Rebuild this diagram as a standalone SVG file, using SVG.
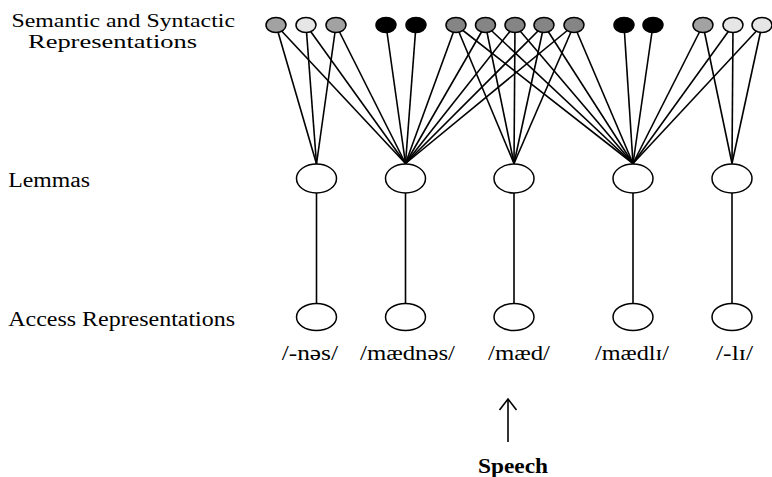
<svg xmlns="http://www.w3.org/2000/svg" width="772" height="477" viewBox="0 0 772 477">
<style>
.lbl{font-family:"Liberation Serif","Times New Roman",serif;font-size:20px;fill:#000}
.hd{font-size:18.5px}
.b{font-weight:bold}
.c line,.c polyline{stroke:#000;stroke-width:1.6;fill:none}
.f{stroke:#000;stroke-width:1.5}
.w{fill:#fff}
.k{fill:#000}
.g{fill:#858585}
.s{fill:#a2a2a2}
.l{fill:#e6e6e6}
</style>
<rect width="772" height="477" fill="#fff"/>
<g id="labels">
<text class="lbl hd" x="11.5" y="26.5" textLength="223.5" lengthAdjust="spacingAndGlyphs">Semantic and Syntactic</text>
<text class="lbl hd" x="28" y="47.5" textLength="169" lengthAdjust="spacingAndGlyphs">Representations</text>
<text class="lbl" x="8.3" y="187" textLength="81.7" lengthAdjust="spacingAndGlyphs">Lemmas</text>
<text class="lbl" x="8.3" y="326" textLength="226.7" lengthAdjust="spacingAndGlyphs">Access Representations</text>
</g>
<g class="c" id="connectors">
<line x1="276" y1="25" x2="316.5" y2="164"/>
<line x1="306" y1="25" x2="316.5" y2="164"/>
<line x1="336" y1="25" x2="316.5" y2="164"/>
<line x1="276" y1="25" x2="405.5" y2="163.5"/>
<line x1="306" y1="25" x2="405.5" y2="163.5"/>
<line x1="336" y1="25" x2="405.5" y2="163.5"/>
<line x1="386" y1="25" x2="405.5" y2="163.5"/>
<line x1="416" y1="25" x2="405.5" y2="163.5"/>
<line x1="456" y1="25" x2="405.5" y2="163.5"/>
<line x1="485.5" y1="25" x2="405.5" y2="163.5"/>
<line x1="515" y1="25" x2="405.5" y2="163.5"/>
<line x1="544" y1="25" x2="405.5" y2="163.5"/>
<line x1="574" y1="25" x2="405.5" y2="163.5"/>
<line x1="456" y1="25" x2="514" y2="163.5"/>
<line x1="485.5" y1="25" x2="514" y2="163.5"/>
<line x1="515" y1="25" x2="514" y2="163.5"/>
<line x1="544" y1="25" x2="514" y2="163.5"/>
<line x1="574" y1="25" x2="514" y2="163.5"/>
<line x1="456" y1="25" x2="633" y2="163.5"/>
<line x1="485.5" y1="25" x2="633" y2="163.5"/>
<line x1="515" y1="25" x2="633" y2="163.5"/>
<line x1="544" y1="25" x2="633" y2="163.5"/>
<line x1="574" y1="25" x2="633" y2="163.5"/>
<line x1="624" y1="25" x2="633" y2="163.5"/>
<line x1="653" y1="25" x2="633" y2="163.5"/>
<line x1="703" y1="25" x2="633" y2="163.5"/>
<line x1="733" y1="25" x2="633" y2="163.5"/>
<line x1="762" y1="25" x2="633" y2="163.5"/>
<line x1="703" y1="25" x2="732" y2="163.5"/>
<line x1="733" y1="25" x2="732" y2="163.5"/>
<line x1="762" y1="25" x2="732" y2="163.5"/>
<line x1="316.5" y1="193" x2="316.5" y2="303.5"/>
<line x1="405.5" y1="193" x2="405.5" y2="303.5"/>
<line x1="514" y1="193" x2="514" y2="303.5"/>
<line x1="633" y1="193" x2="633" y2="303.5"/>
<line x1="732" y1="193" x2="732" y2="303.5"/>
<line x1="508" y1="442" x2="508" y2="400"/>
<polyline points="499.5,410 508,399 516.5,410"/>
</g>
<g id="sem-nodes">
<g id="s1"><ellipse class="f s" cx="276" cy="25" rx="10" ry="7.5"/></g>
<g id="s2"><ellipse class="f l" cx="306" cy="25" rx="10" ry="7.5"/></g>
<g id="s3"><ellipse class="f s" cx="336" cy="25" rx="10" ry="7.5"/></g>
<g id="s4"><ellipse class="f k" cx="386" cy="25" rx="10" ry="7.5"/></g>
<g id="s5"><ellipse class="f k" cx="416" cy="25" rx="10" ry="7.5"/></g>
<g id="s6"><ellipse class="f g" cx="456" cy="25" rx="10" ry="7.5"/></g>
<g id="s7"><ellipse class="f g" cx="485.5" cy="25" rx="10" ry="7.5"/></g>
<g id="s8"><ellipse class="f g" cx="515" cy="25" rx="10" ry="7.5"/></g>
<g id="s9"><ellipse class="f g" cx="544" cy="25" rx="10" ry="7.5"/></g>
<g id="s10"><ellipse class="f g" cx="574" cy="25" rx="10" ry="7.5"/></g>
<g id="s11"><ellipse class="f k" cx="624" cy="25" rx="10" ry="7.5"/></g>
<g id="s12"><ellipse class="f k" cx="653" cy="25" rx="10" ry="7.5"/></g>
<g id="s13"><ellipse class="f s" cx="703" cy="25" rx="10" ry="7.5"/></g>
<g id="s14"><ellipse class="f l" cx="733" cy="25" rx="10" ry="7.5"/></g>
<g id="s15"><ellipse class="f l" cx="762" cy="25" rx="10" ry="7.5"/></g>
</g>
<g id="lemma-nodes">
<g id="lem-ness"><ellipse class="f w" cx="316.5" cy="178.5" rx="20" ry="14.5"/></g>
<g id="lem-madness"><ellipse class="f w" cx="405.5" cy="178.5" rx="20" ry="14.5"/></g>
<g id="lem-mad"><ellipse class="f w" cx="514" cy="178.5" rx="20" ry="14.5"/></g>
<g id="lem-madly"><ellipse class="f w" cx="633" cy="178.5" rx="20" ry="14.5"/></g>
<g id="lem-ly"><ellipse class="f w" cx="732" cy="178.5" rx="20" ry="14.5"/></g>
</g>
<g id="access-nodes">
<g id="acc-ness"><ellipse class="f w" cx="316.5" cy="317" rx="20" ry="13.5"/><text class="lbl" x="281.7" y="359.5" textLength="56.3" lengthAdjust="spacingAndGlyphs">/-nəs/</text></g>
<g id="acc-madness"><ellipse class="f w" cx="405.5" cy="317" rx="20" ry="13.5"/><text class="lbl" x="360" y="359.5" textLength="95" lengthAdjust="spacingAndGlyphs">/mædnəs/</text></g>
<g id="acc-mad"><ellipse class="f w" cx="514" cy="317" rx="20" ry="13.5"/><text class="lbl" x="488" y="359.5" textLength="62" lengthAdjust="spacingAndGlyphs">/mæd/</text></g>
<g id="acc-madly"><ellipse class="f w" cx="633" cy="317" rx="20" ry="13.5"/><text class="lbl" x="595" y="359.5" textLength="74" lengthAdjust="spacingAndGlyphs">/mædlɪ/</text></g>
<g id="acc-ly"><ellipse class="f w" cx="732" cy="317" rx="20" ry="13.5"/><text class="lbl" x="716" y="359.5" textLength="37" lengthAdjust="spacingAndGlyphs">/-lɪ/</text></g>
</g>
<g id="speech"><text class="lbl b" x="478" y="473" textLength="70" lengthAdjust="spacingAndGlyphs">Speech</text></g>
</svg>
